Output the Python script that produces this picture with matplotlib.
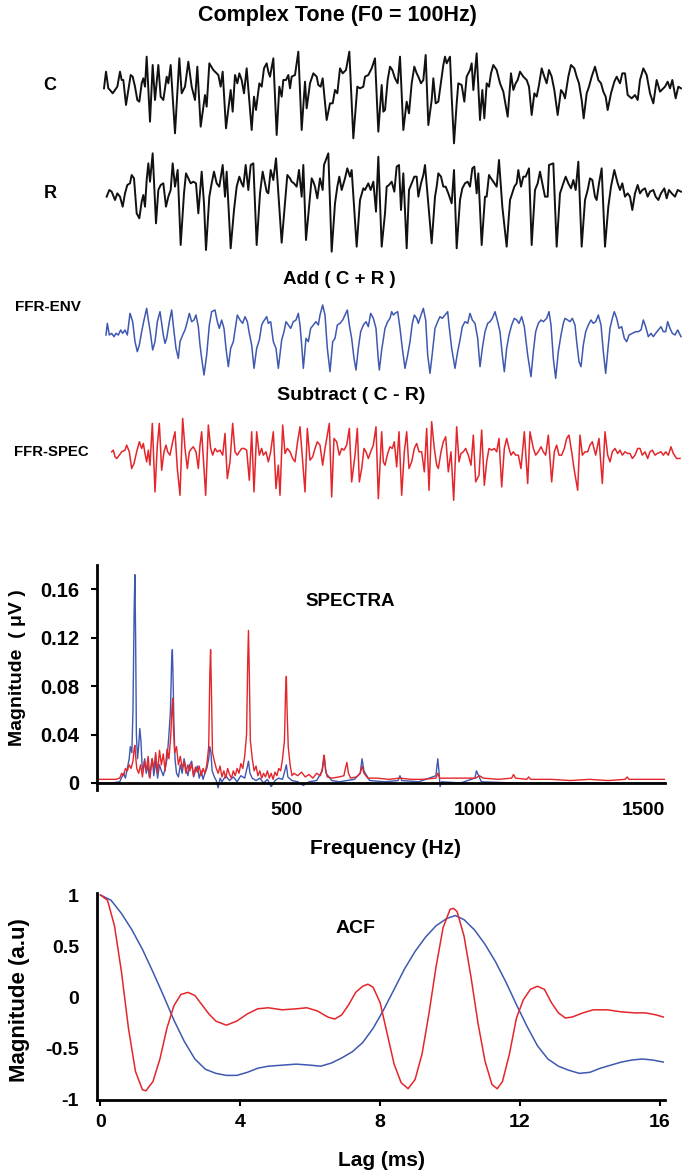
import matplotlib
matplotlib.use("Agg")
import matplotlib.pyplot as plt

plt.rcParams['font.family'] = ['Liberation Sans', 'DejaVu Sans']
plt.rcParams['font.weight'] = 'bold'

W, H = 682, 1171
BLACK = '#111111'
BLUE = '#3f58b0'
RED = '#e3262b'

# ---------------- waveform data (time ms, amplitude a.u.) ----------------
C_WAVE = [
    (-0.4, 0.00), (0.4, 0.50), (1.33, 0.00), (2.0, -0.05), (3.07, -0.15), (4.0, -0.05), (4.93, 0.05),
    (6.0, 0.50), (6.67, 0.25), (7.33, 0.25), (8.4, -0.50), (9.33, -0.05), (10.27, 0.40), (11.07, 0.35),
    (12.0, 0.05), (12.93, -0.35), (13.73, -0.40), (14.67, 0.15), (15.33, 0.30), (16.0, 0.05), (16.67, 0.95),
    (18.0, -1.00), (19.07, 0.70), (20.0, -0.35), (21.33, 0.70), (22.27, -0.25), (23.33, -0.35), (24.67, 0.35),
    (25.33, 0.15), (26.27, 0.70), (28.0, -1.35), (29.73, 0.90), (30.67, -0.15), (32.0, 0.05), (33.33, 0.80),
    (34.67, 0.05), (36.0, -0.35), (36.93, 0.65), (38.27, -1.15), (40.0, -0.20), (40.67, -0.55), (41.73, 0.75),
    (43.33, 0.55), (45.33, 0.40), (46.27, 0.05), (47.07, 0.50), (48.4, -1.20), (50.27, -0.05), (51.07, -0.70),
    (52.0, 0.40), (52.93, 0.15), (53.73, 0.45), (54.67, 0.25), (55.6, -0.15), (56.67, 0.60), (58.67, -1.25),
    (59.6, -0.25), (60.4, -0.65), (61.73, 0.15), (62.67, 0.05), (63.6, 0.60), (64.67, 0.75), (65.33, 0.50),
    (66.0, 0.35), (67.33, 0.90), (68.67, -1.40), (69.73, 0.05), (70.67, -0.25), (71.33, 0.25), (72.4, 0.25),
    (73.33, 0.40), (74.0, 0.00), (74.67, 0.35), (76.0, 0.40), (77.33, 1.10), (78.67, -1.25), (80.0, 0.20),
    (80.67, -0.60), (82.0, 0.15), (83.33, 0.45), (84.67, 0.35), (85.33, 0.10), (86.27, 0.05), (87.07, 0.30),
    (88.67, -0.95), (90.0, -0.45), (91.07, -0.45), (92.0, -0.05), (92.93, -0.15), (94.0, 0.60), (95.07, 0.45),
    (96.4, 0.55), (97.73, 1.10), (99.33, -1.50), (100.93, 0.05), (102.0, 0.00), (103.33, 0.05), (104.0, 0.35),
    (105.33, 0.40), (106.67, 0.60), (108.0, 0.90), (109.33, -1.30), (110.67, 0.10), (111.33, -0.70),
    (112.0, -0.65), (113.07, 0.25), (114.0, 0.65), (114.93, 0.55), (116.0, 0.30), (117.07, 0.15), (118.0, 0.95),
    (119.33, -1.25), (120.67, -0.40), (121.6, -0.75), (122.67, 0.15), (123.73, 0.65), (124.67, 0.45),
    (125.33, 0.35), (126.4, 0.15), (127.33, 0.25), (128.27, 1.00), (129.33, -1.10), (130.67, -0.35),
    (131.33, 0.30), (132.27, -0.45), (133.33, -0.40), (134.4, 0.20), (135.33, 0.70), (136.0, 0.95),
    (136.67, 0.75), (138.0, 0.95), (138.67, -0.25), (139.6, -1.65), (140.67, -0.45), (141.33, 0.15),
    (142.67, 0.10), (143.73, -0.40), (144.67, 0.35), (146.0, 0.55), (146.67, 0.75), (147.33, -0.05),
    (148.67, 1.05), (150.0, -0.95), (150.93, -0.05), (151.73, -0.90), (152.67, 0.15), (153.6, 0.05),
    (154.4, 0.45), (155.33, 0.70), (156.67, 0.55), (158.0, 0.15), (159.33, -0.10), (161.07, -0.85),
    (162.4, 0.45), (163.33, -0.05), (164.27, 0.15), (165.07, 0.25), (166.0, 0.50), (167.33, 0.35),
    (168.67, 0.25), (169.6, 0.05), (170.67, -0.80), (171.73, -0.15), (172.67, -0.25), (173.6, 0.10),
    (174.67, 0.60), (175.73, 0.35), (176.67, 0.15), (177.6, 0.55), (178.67, 0.35), (179.73, -0.05),
    (181.07, -0.80), (182.4, -0.05), (183.33, -0.15), (184.0, -0.30), (185.33, 0.35), (186.4, 0.70),
    (187.73, 0.60), (188.67, 0.35), (189.6, 0.15), (190.67, -0.35), (191.47, -0.90), (192.67, -0.15),
    (193.6, 0.05), (194.67, 0.35), (196.0, 0.65), (197.33, 0.25), (198.4, 0.15), (199.33, -0.10),
    (200.27, -0.25), (201.07, -0.65), (202.4, -0.15), (203.73, 0.20), (204.67, 0.35), (206.0, 0.15),
    (206.93, 0.45), (208.0, 0.45), (209.07, -0.20), (210.67, -0.30), (212.0, -0.20), (213.07, -0.35),
    (214.0, 0.25), (215.33, 0.60), (216.67, 0.40), (218.0, -0.15), (219.33, -0.45), (220.67, 0.25),
    (222.0, -0.10), (224.0, 0.05), (225.07, 0.20), (226.0, 0.00), (226.93, 0.25), (228.27, -0.30),
    (229.33, 0.05), (230.4, 0.00),
]

R_WAVE = [
    (0.67, 0.00), (1.73, 0.20), (2.67, 0.15), (4.0, -0.10), (4.93, 0.10), (6.0, 0.00), (7.07, -0.30),
    (8.0, 0.10), (8.93, 0.35), (10.0, 0.40), (10.67, 0.65), (11.6, 0.55), (12.67, -0.50), (13.73, -0.65),
    (14.67, -0.15), (15.33, 0.05), (16.0, -0.30), (16.67, 0.50), (17.33, 1.00), (18.0, 0.45), (19.07, 1.30),
    (20.4, -0.80), (21.33, 0.20), (22.27, 0.35), (23.33, 0.40), (24.4, -0.30), (25.33, 0.00), (26.27, 0.20),
    (27.07, 1.00), (28.0, 0.30), (29.07, 0.80), (30.27, -1.45), (31.6, 0.10), (32.4, 0.70), (33.33, 0.55),
    (34.27, 0.40), (35.33, 0.45), (36.4, 0.40), (37.33, -0.50), (38.67, 0.75), (39.6, -0.20), (40.4, -1.60),
    (41.73, 0.00), (42.67, 0.40), (43.6, 0.75), (44.67, 0.40), (45.73, 0.30), (47.07, 0.95), (48.0, 0.00),
    (48.67, 0.75), (50.27, -1.55), (51.6, -0.40), (52.67, 0.30), (53.73, 0.60), (54.67, 0.40), (55.33, 0.30),
    (56.27, 0.95), (57.33, 0.20), (58.27, 0.95), (59.33, 1.00), (60.67, -1.45), (62.0, 0.10), (63.07, 0.75),
    (64.0, 0.40), (64.67, 0.15), (65.33, 0.10), (66.27, 0.80), (67.33, 0.50), (68.4, 1.15), (70.67, -1.38),
    (72.0, -0.20), (72.93, 0.65), (74.0, 0.55), (74.67, 0.45), (75.6, 0.40), (76.67, 0.30), (77.6, 0.80),
    (78.67, 0.00), (79.33, 0.95), (80.4, -1.30), (81.73, -0.20), (82.67, 0.55), (83.33, 0.45), (84.0, 0.30),
    (84.93, -0.05), (86.0, 0.55), (87.07, 0.20), (87.6, 0.95), (89.33, 1.30), (90.67, -1.65), (92.0, -0.20),
    (92.93, 0.30), (93.73, 0.60), (94.67, 0.20), (96.0, 0.55), (96.93, 0.85), (98.0, 0.60), (98.67, 0.80),
    (100.67, -1.50), (102.0, -0.10), (103.33, 0.25), (104.0, 0.20), (105.33, 0.40), (106.27, 0.20),
    (107.33, 0.45), (108.4, -0.45), (109.33, 1.20), (110.67, -1.50),
    (112.0, -0.50), (112.67, 0.30), (113.6, 0.35), (114.67, 0.45), (115.73, 0.15), (116.67, 0.90),
    (117.6, 0.95), (118.4, -0.40), (119.33, 0.70), (120.67, -1.55), (121.6, 0.20), (122.67, 0.40),
    (123.73, 0.60), (124.67, 0.60), (125.33, 0.00), (126.4, 0.40), (127.33, 0.65), (128.0, 0.95),
    (130.67, -1.40), (132.0, 0.00), (132.67, 0.30), (133.33, 0.70), (134.4, 0.60), (135.33, 0.30),
    (136.27, 0.30), (137.33, 0.10), (138.67, -0.20), (139.6, 0.80), (140.67, -1.55), (142.0, -0.10),
    (142.93, 0.25), (144.0, 0.40), (145.07, 0.45), (146.0, 0.30), (146.93, 0.85), (147.73, 0.90),
    (148.67, 0.10), (149.33, 0.70), (150.67, -1.45), (152.0, 0.00), (152.67, 0.00), (153.6, 0.65),
    (154.4, 0.55), (155.33, 0.45), (156.67, 0.30), (157.6, 1.10), (158.93, -0.30), (160.67, -1.50),
    (162.0, -0.10), (162.67, 0.05), (163.73, 0.30), (164.67, 0.40), (165.33, 0.80), (166.4, 0.30),
    (167.33, 0.60), (168.27, 0.60), (169.6, 0.85), (170.67, -1.45), (172.0, 0.20), (173.07, 0.40),
    (174.0, 0.75), (174.93, 0.40), (176.0, 0.00), (177.07, 0.00), (177.6, 0.95), (179.33, 1.00),
    (180.67, -1.50), (182.0, 0.10), (183.33, 0.40), (184.27, 0.60), (185.33, 0.40), (186.4, 0.25),
    (187.33, 0.50), (188.27, 0.20), (189.33, 1.05), (190.67, -1.50), (192.0, -0.10), (193.07, 0.20),
    (194.0, 0.55), (194.93, 0.50), (196.0, 0.00), (196.67, -0.10), (197.6, 0.40), (198.67, 0.85),
    (200.0, -1.50), (201.33, -0.30), (202.4, 0.30), (203.73, 0.80), (205.07, 0.40), (206.0, 0.20),
    (206.93, 0.40), (208.0, 0.00), (209.07, 0.10), (210.0, 0.00), (210.93, -0.40), (212.0, 0.10),
    (213.07, 0.35), (214.0, 0.10), (214.93, 0.20), (216.0, 0.25), (217.07, 0.00), (218.0, 0.15),
    (219.33, 0.20), (220.27, 0.00), (221.33, -0.10), (222.4, 0.10), (223.73, 0.25), (224.67, -0.05),
    (225.6, 0.20), (226.67, 0.10), (228.0, 0.00), (229.07, 0.20), (230.4, 0.15),
]

ENV_WAVE = [
    (0.4, 0.00), (0.93, 0.35), (1.73, 0.00), (2.67, 0.05), (3.6, -0.05), (4.4, 0.05), (5.33, 0.00),
    (6.27, 0.15), (7.07, 0.05), (8.0, 0.15), (8.93, 0.00), (10.0, 0.65), (11.07, 0.40), (12.0, -0.20),
    (12.93, -0.50), (13.73, -0.30), (14.67, 0.10), (15.6, 0.45), (16.67, 0.80), (17.33, 0.45), (18.0, 0.15),
    (19.07, -0.45), (20.0, -0.20), (20.93, 0.40), (22.0, 0.70), (22.67, 0.35), (23.33, 0.00), (24.0, -0.25),
    (24.67, -0.10), (25.73, 0.40), (26.67, 0.75), (27.6, 0.10), (28.4, -0.40), (29.33, -0.70), (30.0, -0.20),
    (31.07, 0.00), (32.0, 0.15), (32.93, 0.40), (33.73, 0.65), (34.67, 0.40), (35.6, 0.45), (36.4, 0.60),
    (37.33, 0.25), (38.0, -0.30), (38.67, -0.70), (39.6, -1.20), (40.67, -0.60), (41.73, 0.30), (42.67, 0.70),
    (44.0, 0.75), (44.93, 0.40), (45.73, 0.20), (46.67, 0.45), (47.6, 0.20), (48.4, -0.40), (49.33, -0.95),
    (50.27, -0.40), (51.33, -0.20), (52.4, 0.35), (52.93, 0.60), (54.0, 0.45), (55.07, 0.35), (56.0, 0.55),
    (56.93, 0.40), (57.73, 0.05), (58.67, -0.30), (59.6, -1.00), (60.67, -0.40), (61.73, -0.15), (62.67, 0.30),
    (63.33, 0.40), (64.67, 0.55), (65.33, 0.35), (66.27, 0.40), (67.33, -0.20), (68.4, -0.40), (69.33, -1.00),
    (70.67, -0.15), (71.6, 0.10), (72.4, 0.40), (73.33, 0.30), (74.27, 0.20), (75.33, 0.40), (76.4, 0.45),
    (77.33, 0.65), (78.0, 0.30), (78.67, -0.30), (79.33, -1.00), (80.4, -0.10), (81.33, -0.20), (82.27, 0.20),
    (83.33, 0.30), (84.4, 0.40), (85.33, 0.30), (86.0, 0.60), (87.07, 0.90), (88.0, 0.60), (88.93, -0.40),
    (90.0, -1.10), (91.07, -0.20), (92.0, -0.10), (92.93, 0.30), (94.0, 0.35), (95.07, 0.45), (96.0, 0.60),
    (96.93, 0.75), (97.73, 0.30), (98.67, -0.10), (99.6, -0.70), (100.4, -1.05), (101.33, -0.40),
    (102.27, 0.10), (103.33, 0.30), (104.4, 0.40), (105.33, 0.25), (106.27, 0.65), (107.33, 0.50),
    (108.4, 0.20), (109.33, -0.75), (109.73, -1.05), (110.67, -0.45),
    (112.0, 0.20), (113.07, 0.40), (114.0, 0.50), (114.67, 0.70), (115.33, 0.60), (116.0, 0.65),
    (117.07, 0.70), (118.0, 0.20), (118.93, -0.40), (120.0, -1.00), (121.07, -0.60), (122.0, -0.20),
    (122.93, 0.35), (123.73, 0.60), (124.67, 0.50), (125.33, 0.35), (126.4, 0.60), (127.33, 0.80),
    (128.27, 0.45), (129.07, -0.60), (130.0, -1.15), (130.93, -0.55), (132.0, 0.20), (133.07, 0.40),
    (134.0, 0.55), (134.93, 0.50), (136.0, 0.60), (137.07, 0.70), (137.6, 0.30), (138.67, -0.40),
    (140.0, -1.00), (141.07, -0.50), (142.0, -0.15), (142.93, 0.25), (144.0, 0.40), (145.07, 0.35),
    (146.0, 0.65), (146.93, 0.45), (148.0, 0.35), (149.07, -0.10), (150.0, -0.95), (150.93, -0.40),
    (152.0, 0.10), (153.07, 0.35), (154.0, 0.40), (154.93, 0.50), (156.0, 0.70), (157.07, 0.40),
    (158.0, 0.10), (158.93, -0.60), (159.73, -1.10), (160.67, -0.40), (161.6, 0.00), (162.67, 0.30),
    (163.73, 0.50), (164.67, 0.45), (165.6, 0.35), (166.67, 0.55), (167.73, 0.25), (169.07, -0.60),
    (170.4, -1.25), (171.33, -0.50), (172.27, 0.10), (173.33, 0.35), (174.4, 0.45), (175.33, 0.40),
    (176.67, 0.50), (177.6, 0.70), (178.4, 0.30), (179.33, -0.70), (180.27, -1.30), (181.33, -0.50),
    (182.4, 0.00), (183.33, 0.35), (184.0, 0.50), (185.07, 0.45), (186.0, 0.40), (186.93, 0.50),
    (188.0, 0.30), (188.67, -0.20), (189.6, -0.80), (190.4, -0.95), (191.33, -0.30), (192.27, 0.10),
    (193.33, 0.30), (194.4, 0.45), (195.33, 0.35), (196.27, 0.40), (197.33, 0.60), (198.4, 0.30),
    (199.33, -0.50), (200.27, -1.15), (201.07, -0.50), (202.0, 0.20), (202.93, 0.50), (203.73, 0.70),
    (204.67, 0.50), (205.6, 0.20), (206.67, 0.25), (207.73, -0.10), (208.67, -0.20), (209.6, 0.00),
    (210.93, 0.05), (212.27, 0.10), (213.33, 0.10), (214.4, 0.15), (215.33, 0.45), (216.27, 0.25),
    (217.33, -0.05), (218.4, 0.05), (219.33, -0.05), (220.27, 0.05), (221.33, 0.15), (222.4, 0.25),
    (223.33, 0.10), (224.27, 0.10), (225.07, 0.40), (226.0, 0.20), (226.93, 0.05), (228.0, 0.00),
    (229.07, 0.15), (230.4, -0.05),
]

SPEC_WAVE = [
    (2.67, 0.00), (3.33, 0.05), (4.0, -0.15), (4.67, -0.20), (5.73, -0.10), (6.67, 0.00), (8.0, 0.05),
    (8.67, 0.20), (9.73, 0.00), (10.67, -0.50), (11.6, -0.35), (12.67, 0.00), (13.73, 0.30), (14.67, 0.10),
    (15.33, 0.25), (16.0, -0.05), (16.67, -0.30), (17.33, 0.05), (18.0, -0.40), (18.93, 0.85), (20.0, -1.20),
    (20.93, 0.20), (21.73, 0.85), (22.67, -0.55), (23.6, 0.00), (24.4, 0.20), (25.07, 0.00), (26.0, -0.10),
    (27.07, 0.30), (28.0, 0.60), (28.93, -0.50), (30.0, -1.30), (31.07, 1.00), (32.0, 0.10), (32.93, -0.50),
    (33.73, 0.00), (34.67, 0.10), (35.33, 0.15), (36.4, 0.00), (37.33, -0.50), (38.0, 0.20), (38.67, 0.60),
    (39.33, -0.20), (40.27, -1.30), (41.33, 0.80), (42.27, 0.10), (43.07, -0.10), (44.0, 0.10), (44.93, 0.00),
    (46.0, 0.05), (47.07, -0.10), (48.0, 0.55), (48.93, -0.80), (50.0, -0.30), (51.07, 0.85), (52.0, 0.00),
    (52.93, -0.10), (53.73, 0.00), (54.67, 0.10), (55.6, 0.10), (56.67, 0.05), (57.73, -0.85), (58.67, 0.60),
    (59.6, -1.20), (60.67, 0.60), (61.73, -0.10), (62.67, 0.10), (63.33, -0.10), (64.4, 0.00), (65.33, -0.30),
    (66.27, 0.00), (67.33, 0.60), (68.4, -1.10), (69.33, -0.40), (70.0, -1.30), (71.07, 0.80), (72.0, -0.05),
    (72.93, 0.10), (74.0, 0.00), (75.07, -0.20), (76.0, -0.30), (76.93, 0.25), (78.0, 0.75), (79.07, -0.30),
    (80.0, -1.20), (80.93, 0.70), (82.0, -0.25), (83.07, -0.15), (84.0, 0.10), (84.93, 0.30), (86.0, 0.20),
    (87.07, -0.40), (88.0, 0.10), (89.73, 0.85), (90.67, -1.35), (91.6, 0.40), (92.67, 0.30), (93.73, -0.10),
    (94.67, 0.10), (95.6, 0.05), (96.67, 0.20), (97.73, 0.70), (98.67, -0.90), (100.0, -0.10), (100.93, 0.70),
    (101.73, -0.90), (102.67, -0.50), (103.6, 0.10), (104.4, 0.00), (105.33, -0.20), (106.27, 0.00),
    (107.33, 0.20), (108.4, 0.75), (109.33, -1.40), (110.67, 0.60), (111.33, -0.30),
    (112.0, -0.40), (113.07, -0.05), (114.0, 0.15), (114.93, 0.10), (115.73, 0.30), (116.67, -0.45),
    (117.6, 0.60), (118.67, -1.30), (119.73, 0.00), (120.67, 0.60), (121.6, -0.50), (122.67, -0.30),
    (123.73, 0.10), (124.67, 0.25), (125.6, 0.00), (126.67, 0.00), (127.73, -0.60), (128.67, 0.70),
    (129.6, -1.15), (130.67, 0.90), (131.73, 0.10), (132.67, -0.40), (133.33, -0.50), (134.4, 0.00),
    (135.33, 0.30), (136.27, 0.45), (137.33, -0.60), (138.4, 0.00), (139.47, -1.45), (140.67, 0.75),
    (141.6, -0.30), (142.4, -0.05), (143.33, 0.00), (144.27, 0.10), (145.33, -0.10), (146.4, -0.40),
    (147.33, 0.50), (148.27, -0.90), (149.6, -0.70), (150.67, 0.65), (151.73, -1.00), (152.67, -0.30),
    (153.6, 0.10), (154.67, 0.05), (155.73, 0.10), (156.67, 0.00), (157.6, 0.40), (158.67, -1.05),
    (159.73, 0.10), (160.67, 0.40), (161.6, 0.10), (162.4, -0.10), (163.33, 0.00), (164.27, -0.10),
    (165.33, -0.10), (166.4, -0.50), (167.73, 0.60), (169.07, -0.95), (170.0, 0.60), (171.33, 0.10),
    (172.27, -0.10), (173.33, 0.00), (174.4, 0.15), (175.33, 0.00), (176.27, -0.10), (177.33, 0.50),
    (178.67, -0.90), (179.73, 0.00), (180.67, 0.20), (181.6, -0.10), (182.67, -0.10), (183.73, 0.10),
    (184.67, 0.40), (185.6, 0.50), (186.67, 0.00), (187.6, -0.50), (189.07, -1.15), (190.0, 0.50),
    (190.93, -0.10), (192.0, 0.00), (193.07, 0.00), (194.0, 0.20), (194.93, 0.30), (196.27, -0.10),
    (197.6, 0.40), (198.93, -0.95), (200.0, 0.60), (201.07, -0.10), (202.0, -0.30), (202.93, 0.00),
    (204.0, 0.10), (205.07, -0.05), (206.0, 0.05), (206.93, -0.10), (208.0, 0.00), (209.07, -0.05),
    (210.0, -0.05), (210.93, -0.20), (212.0, -0.10), (213.07, 0.10), (214.0, 0.10), (214.93, -0.10),
    (216.0, 0.00), (217.07, -0.20), (218.0, 0.00), (218.93, 0.05), (220.0, -0.10), (220.93, -0.05),
    (222.4, 0.00), (223.33, -0.10), (224.27, 0.00), (225.33, -0.10), (226.4, 0.15), (227.33, -0.05),
    (228.67, -0.20), (230.0, -0.20),
]

# ---------------- spectra (Hz, magnitude uV) ----------------
SPECTRUM_ENV = [
    (0, 0.000), (40, 0.000), (60, 0.001), (70, 0.008), (75, 0.004), (80, 0.012), (85, 0.020), (88, 0.030),
    (92, 0.025), (95, 0.060), (98, 0.140), (100, 0.172), (102, 0.120), (104, 0.040), (107, 0.020),
    (110, 0.030), (113, 0.045), (116, 0.035), (119, 0.015), (122, 0.010), (126, 0.020), (130, 0.008),
    (134, 0.015), (138, 0.005), (142, 0.012), (146, 0.020), (150, 0.006), (155, 0.018), (160, 0.004),
    (165, 0.015), (170, 0.010), (175, 0.006), (180, 0.012), (185, 0.020), (190, 0.040), (194, 0.060),
    (197, 0.100), (199, 0.110), (201, 0.085), (203, 0.050), (206, 0.020), (210, 0.008), (215, 0.005),
    (220, 0.015), (225, 0.008), (230, 0.020), (235, 0.012), (240, 0.006), (245, 0.015), (250, 0.018),
    (255, 0.005), (260, 0.010), (265, 0.014), (270, 0.004), (275, 0.010), (280, 0.003), (285, 0.008),
    (290, 0.012), (295, 0.020), (298, 0.030), (301, 0.025), (304, 0.010), (310, 0.005), (315, 0.002),
    (320, -0.004), (325, 0.004), (330, 0.001), (340, 0.006), (350, 0.002), (360, 0.005), (370, 0.001),
    (380, 0.006), (390, 0.004), (396, 0.012), (400, 0.018), (404, 0.008), (410, 0.004), (420, 0.002),
    (430, 0.004), (440, 0.000), (450, 0.003), (460, -0.003), (470, 0.002), (480, 0.004), (490, 0.003),
    (496, 0.010), (500, 0.015), (504, 0.005), (515, 0.002), (530, 0.001), (545, -0.002), (560, 0.001),
    (580, 0.002), (595, 0.010), (600, 0.022), (605, 0.008), (620, 0.002), (640, 0.001), (660, 0.002),
    (680, 0.003), (695, 0.008), (700, 0.020), (705, 0.010), (720, 0.002), (760, 0.001), (795, 0.002),
    (800, 0.006), (805, 0.002), (850, 0.001), (895, 0.006), (900, 0.020), (903, 0.010), (906, -0.003),
    (910, 0.001), (960, 0.000), (998, 0.004), (1002, 0.010), (1008, 0.006), (1015, 0.001), (1100, 0.000),
    (1200, 0.000), (1300, 0.000), (1400, 0.000), (1500, 0.000),
]

SPECTRUM_SPEC = [
    (0, 0.003), (50, 0.003), (60, 0.004), (65, 0.008), (70, 0.006), (75, 0.012), (80, 0.010), (85, 0.015),
    (90, 0.012), (95, 0.018), (98, 0.028), (100, 0.031), (102, 0.022), (105, 0.012), (110, 0.008),
    (115, 0.015), (120, 0.005), (125, 0.018), (130, 0.010), (135, 0.022), (140, 0.004), (145, 0.020),
    (150, 0.012), (155, 0.025), (160, 0.008), (165, 0.027), (170, 0.015), (175, 0.024), (180, 0.010),
    (185, 0.028), (190, 0.020), (195, 0.040), (198, 0.062), (200, 0.070), (202, 0.045), (205, 0.025),
    (210, 0.030), (215, 0.015), (220, 0.022), (225, 0.012), (230, 0.018), (235, 0.008), (240, 0.015),
    (245, 0.010), (250, 0.016), (255, 0.006), (260, 0.013), (265, 0.009), (270, 0.014), (275, 0.006),
    (280, 0.012), (285, 0.008), (290, 0.015), (295, 0.030), (298, 0.090), (300, 0.110), (302, 0.080),
    (305, 0.025), (310, 0.018), (315, 0.012), (320, 0.008), (325, 0.014), (330, 0.005), (335, 0.010),
    (340, 0.004), (345, 0.012), (350, 0.007), (355, 0.004), (360, 0.010), (365, 0.006), (370, 0.012),
    (375, 0.008), (380, 0.016), (385, 0.012), (390, 0.022), (395, 0.040), (398, 0.100), (400, 0.126),
    (402, 0.095), (405, 0.035), (410, 0.020), (415, 0.010), (420, 0.014), (425, 0.006), (430, 0.010),
    (435, 0.004), (440, 0.008), (445, 0.005), (450, 0.010), (455, 0.004), (460, 0.008), (465, 0.003),
    (470, 0.009), (475, 0.006), (480, 0.012), (485, 0.010), (490, 0.020), (495, 0.035), (498, 0.075),
    (500, 0.088), (502, 0.060), (505, 0.030), (510, 0.015), (515, 0.006), (520, 0.008), (530, 0.006),
    (540, 0.009), (550, 0.005), (560, 0.007), (570, 0.004), (580, 0.008), (590, 0.006), (595, 0.012),
    (598, 0.020), (600, 0.023), (603, 0.012), (608, 0.005), (620, 0.004), (640, 0.005), (652, 0.006),
    (656, 0.012), (660, 0.017), (664, 0.008), (670, 0.004), (685, 0.005), (695, 0.008), (700, 0.014),
    (705, 0.008), (715, 0.004), (740, 0.004), (770, 0.003), (800, 0.004), (830, 0.003), (860, 0.003),
    (895, 0.004), (900, 0.008), (905, 0.004), (950, 0.004), (1000, 0.004), (1010, 0.006), (1020, 0.004),
    (1060, 0.003), (1095, 0.004), (1100, 0.007), (1105, 0.004), (1135, 0.003), (1140, 0.005),
    (1145, 0.003), (1200, 0.003), (1250, 0.002), (1300, 0.003), (1350, 0.002), (1395, 0.003),
    (1400, 0.005), (1405, 0.003), (1450, 0.003), (1500, 0.003),
]
SPEC_XTICKS = [500, 1000, 1500]
SPEC_YTICKS = [0, 0.04, 0.08, 0.12, 0.16]
SPEC_YLABELS = ['0', '0.04', '0.08', '0.12', '0.16']

# ---------------- autocorrelation (lag ms, a.u.) ----------------
ACF_ENV = [
    (0, 1.00), (0.3, 0.95), (0.6, 0.82), (0.9, 0.66), (1.2, 0.47), (1.5, 0.25), (1.8, 0.02), (2.1, -0.22),
    (2.4, -0.43), (2.7, -0.60), (3.0, -0.70), (3.3, -0.74), (3.6, -0.76), (3.9, -0.76), (4.2, -0.73),
    (4.5, -0.69), (4.8, -0.67), (5.2, -0.66), (5.6, -0.65), (6.0, -0.66), (6.3, -0.67), (6.6, -0.64),
    (6.9, -0.59), (7.2, -0.53), (7.5, -0.44), (7.8, -0.30), (8.1, -0.12), (8.4, 0.08), (8.7, 0.28),
    (9.0, 0.45), (9.3, 0.59), (9.6, 0.70), (9.9, 0.77), (10.15, 0.80), (10.4, 0.76), (10.7, 0.66),
    (11.0, 0.52), (11.3, 0.35), (11.6, 0.15), (11.9, -0.07), (12.2, -0.28), (12.5, -0.47), (12.8, -0.60),
    (13.1, -0.67), (13.4, -0.71), (13.7, -0.74), (14.0, -0.73), (14.3, -0.69), (14.6, -0.66), (14.9, -0.63),
    (15.2, -0.61), (15.5, -0.60), (15.8, -0.61), (16.1, -0.63),
]
ACF_SPEC = [
    (0, 1.00), (0.2, 0.95), (0.4, 0.70), (0.6, 0.25), (0.8, -0.30), (1.0, -0.72), (1.2, -0.90), (1.3, -0.91),
    (1.5, -0.82), (1.7, -0.60), (1.9, -0.30), (2.1, -0.08), (2.3, 0.03), (2.5, 0.05), (2.7, 0.02),
    (2.9, -0.07), (3.1, -0.16), (3.3, -0.23), (3.6, -0.27), (3.9, -0.23), (4.2, -0.16), (4.5, -0.11),
    (4.8, -0.10), (5.2, -0.12), (5.6, -0.11), (5.9, -0.10), (6.2, -0.13), (6.5, -0.19), (6.7, -0.21),
    (6.9, -0.17), (7.1, -0.07), (7.3, 0.05), (7.5, 0.11), (7.65, 0.13), (7.8, 0.10), (8.0, -0.05),
    (8.2, -0.35), (8.4, -0.65), (8.6, -0.83), (8.8, -0.89), (9.0, -0.80), (9.2, -0.55), (9.4, -0.15),
    (9.6, 0.30), (9.8, 0.68), (10.0, 0.86), (10.1, 0.87), (10.2, 0.84), (10.4, 0.60), (10.6, 0.20),
    (10.8, -0.25), (11.0, -0.62), (11.2, -0.85), (11.35, -0.89), (11.5, -0.82), (11.7, -0.55), (11.9, -0.20),
    (12.1, -0.02), (12.3, 0.08), (12.5, 0.11), (12.7, 0.08), (12.9, -0.05), (13.1, -0.15), (13.3, -0.20),
    (13.5, -0.19), (13.8, -0.15), (14.1, -0.12), (14.5, -0.12), (14.9, -0.14), (15.3, -0.15), (15.6, -0.15),
    (15.9, -0.17), (16.1, -0.19),
]
ACF_XTICKS = [0, 4, 8, 12, 16]
ACF_YTICKS = [-1, -0.5, 0, 0.5, 1]
ACF_YLABELS = ['-1', '-0.5', '0', '0.5', '1']


def add_ax(fig, x0, x1, ytop, ybot):
    return fig.add_axes([x0 / W, 1 - ybot / H, (x1 - x0) / W, (ybot - ytop) / H])


def ftext(fig, x, y, s, size, **kw):
    fig.text(x / W, 1 - y / H, s, fontsize=size, fontweight='bold', ha=kw.pop('ha', 'center'),
             va=kw.pop('va', 'center'), **kw)


fig = plt.figure(figsize=(W / 100, H / 100), dpi=100)

# waveform panels: (data, color, lw, ytop, ybot, ylim)
panels = [
    (C_WAVE, BLACK, 1.4, 45, 150, (-1.85, 1.30)),
    (R_WAVE, BLACK, 1.4, 150, 258, (-1.84, 1.40)),
    (ENV_WAVE, BLUE, 1.1, 295, 390, (-1.65, 1.20)),
    (SPEC_WAVE, RED, 1.1, 405, 515, (-1.89, 1.40)),
]
for data, col, lw, yt, yb, yl in panels:
    ax = add_ax(fig, 102.5, 682, yt, yb)
    t, a = zip(*data)
    ax.plot(t, a, color=col, lw=lw, solid_joinstyle='round')
    ax.set_xlim(-1, 230.8)
    ax.set_ylim(*yl)
    ax.axis('off')

ftext(fig, 337, 15, 'Complex Tone (F0 = 100Hz)', 15.5)
ftext(fig, 50, 86, 'C', 13)
ftext(fig, 50, 193, 'R', 13)
ftext(fig, 339, 279, 'Add ( C + R )', 13.5)
ftext(fig, 48, 307, 'FFR-ENV', 11)
ftext(fig, 351, 395, 'Subtract ( C - R)', 14)
ftext(fig, 51, 452, 'FFR-SPEC', 10.7)

# ---------------- spectra panel ----------------
axs = add_ax(fig, 97, 665, 565, 790)
f, m = zip(*SPECTRUM_ENV)
axs.plot(f, m, color=BLUE, lw=1.0)
f, m = zip(*SPECTRUM_SPEC)
axs.plot(f, m, color=RED, lw=1.0)
axs.set_xlim(0, 1495)
axs.set_ylim(-0.0058, 0.180)
for s in ['top', 'right']:
    axs.spines[s].set_visible(False)
axs.spines['bottom'].set_position(('data', 0))
for s in ['left', 'bottom']:
    axs.spines[s].set_linewidth(2.0)
    axs.spines[s].set_color('black')
axs.set_xticks(SPEC_XTICKS)
axs.set_xticklabels([str(v) for v in SPEC_XTICKS])
axs.get_xticklabels()[-1].set_ha('right')
axs.set_yticks(SPEC_YTICKS)
axs.set_yticklabels(SPEC_YLABELS)
axs.tick_params(axis='x', length=0, pad=14, labelsize=14)
axs.tick_params(axis='y', length=4, width=1.5, direction='out', pad=9, labelsize=14.5)
for lab in axs.get_xticklabels() + axs.get_yticklabels():
    lab.set_fontweight('bold')
axs.text(0.445, 0.84, 'SPECTRA', transform=axs.transAxes, fontsize=13.5, fontweight='bold',
         ha='center', va='center')
ftext(fig, 18, 668, 'Magnitude  ( \u03bcV )', 14, rotation=90)
ftext(fig, 385, 848, 'Frequency (Hz)', 15)

# ---------------- ACF panel ----------------
axa = add_ax(fig, 97, 665, 893, 1100)
lg, v = zip(*ACF_ENV)
axa.plot(lg, v, color=BLUE, lw=1.1)
lg, v = zip(*ACF_SPEC)
axa.plot(lg, v, color=RED, lw=1.1)
axa.set_xlim(-0.1, 16.15)
axa.set_ylim(-1.0, 1.02)
for s in ['top', 'right']:
    axa.spines[s].set_visible(False)
for s in ['left', 'bottom']:
    axa.spines[s].set_linewidth(2.0)
    axa.spines[s].set_color('black')
axa.set_xticks(ACF_XTICKS)
axa.set_yticks(ACF_YTICKS)
axa.set_yticklabels(ACF_YLABELS)
axa.tick_params(axis='x', length=4, width=1.5, direction='out', pad=6, labelsize=14)
axa.tick_params(axis='y', length=0, pad=13, labelsize=14)
for lab in axa.get_xticklabels() + axa.get_yticklabels():
    lab.set_fontweight('bold')
axa.text(0.455, 0.83, 'ACF', transform=axa.transAxes, fontsize=14, fontweight='bold',
         ha='center', va='center')
ftext(fig, 20, 1000, 'Magnitude (a.u)', 16, rotation=90)
ftext(fig, 382, 1160, 'Lag (ms)', 15)

fig.savefig('out.png', dpi=100)
